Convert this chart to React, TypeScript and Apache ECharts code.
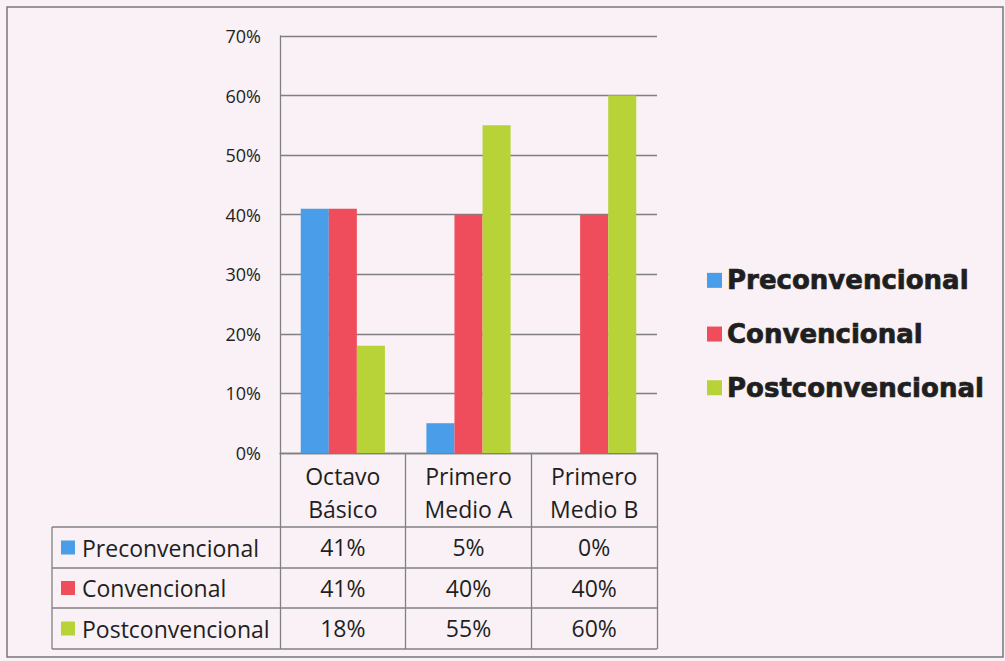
import React, { useEffect, useRef } from "react";
import * as echarts from "echarts";

const categories = ["Octavo\nBásico", "Primero\nMedio A", "Primero\nMedio B"];
const seriesNames = ["Preconvencional", "Convencional", "Postconvencional"];
const preconvencional = [41, 5, 0];
const convencional = [41, 40, 40];
const postconvencional = [18, 55, 60];
const colors = ["#4a9de8", "#ef4d5b", "#b7d337"];
const yTicks = [0, 10, 20, 30, 40, 50, 60, 70];

export default function App() {
  const ref = useRef<HTMLDivElement>(null);
  useEffect(() => {
    if (!ref.current) return;
    const chart = echarts.init(ref.current, null, { renderer: "svg" });
    const values = [preconvencional, convencional, postconvencional];
    const font = "'Open Sans', sans-serif";
    const gridLeft = 280;
    const gridRight = 657;
    const axisY = 453;
    const rowLines = [527, 568, 608, 649];
    const tableLeft = 52;
    const rowMargins = [94, 135, 175];
    const textColor = "#1f1f1f";

    const graphic: any[] = [
      {
        type: "rect",
        shape: { x: 7, y: 7, width: 996, height: 650 },
        style: { fill: "none", stroke: "#777", lineWidth: 1.5 },
        silent: true,
      },
      ...rowLines.map((y) => ({
        type: "line",
        shape: { x1: tableLeft, y1: y, x2: gridRight, y2: y },
        style: { stroke: "#808080", lineWidth: 1.3 },
      })),
      {
        type: "line",
        shape: { x1: tableLeft, y1: rowLines[0], x2: tableLeft, y2: rowLines[3] },
        style: { stroke: "#808080", lineWidth: 1.3 },
      },
    ];
    seriesNames.forEach((name, i) => {
      const yc = (rowLines[i] + rowLines[i + 1]) / 2;
      graphic.push({
        type: "rect",
        shape: { x: 61, y: yc - 7, width: 14, height: 14 },
        style: { fill: colors[i] },
      });
      graphic.push({
        type: "text",
        x: 82,
        y: yc,
        style: {
          text: name,
          font: `23px ${font}`,
          fill: textColor,
          verticalAlign: "middle",
          align: "left",
        },
      });
    });

    const extraAxes = values.map((vals, i) => ({
      type: "category",
      data: vals.map((v) => v + "%"),
      position: "bottom",
      offset: 0,
      axisLine: { show: false },
      axisTick: { show: false },
      axisLabel: {
        margin: rowMargins[i],
        verticalAlign: "middle",
        fontFamily: font,
        fontSize: 23,
        color: textColor,
      },
    }));

    chart.setOption({
      animation: false,
      backgroundColor: "#f9f1f5",
      color: colors,
      graphic,
      legend: {
        orient: "vertical",
        left: 702,
        top: 262,
        icon: "rect",
        itemWidth: 15,
        itemHeight: 15,
        itemGap: 27,
        data: seriesNames,
        textStyle: {
          fontFamily: "'DejaVu Sans', sans-serif",
          fontWeight: "bold",
          fontSize: 26,
          color: textColor,
          lineHeight: 26,
          textBorderColor: textColor,
          textBorderWidth: 0.7,
        },
      },
      grid: {
        left: gridLeft,
        right: 1005 - gridRight,
        top: 36,
        bottom: 661 - axisY,
        containLabel: false,
      },
      xAxis: [
        {
          type: "category",
          data: categories,
          axisLine: { show: true, lineStyle: { color: "#808080", width: 1.3 } },
          axisTick: {
            show: true,
            length: rowLines[3] - axisY,
            lineStyle: { color: "#808080", width: 1.3 },
          },
          axisLabel: {
            margin: 6,
            fontFamily: font,
            fontSize: 23,
            lineHeight: 33,
            color: textColor,
          },
        },
        ...extraAxes,
      ],
      yAxis: {
        type: "value",
        min: 0,
        max: 70,
        interval: 10,
        axisLine: { show: true, lineStyle: { color: "#808080", width: 1.3 } },
        axisTick: { show: false },
        splitLine: { lineStyle: { color: "#808080", width: 1.3 } },
        axisLabel: {
          margin: 19,
          formatter: (v: number) => (yTicks.includes(v) ? v + "%" : ""),
          fontFamily: font,
          fontSize: 18,
          color: textColor,
        },
      },
      series: values.map((vals, i) => ({
        type: "bar",
        name: seriesNames[i],
        data: vals,
        xAxisIndex: 0,
        barGap: "0%",
        barCategoryGap: "33%",
        itemStyle: { color: colors[i] },
      })),
    });
    return () => chart.dispose();
  }, []);
  return (
    <div
      ref={ref}
      style={{ position: "fixed", left: 0, top: 0, width: 1005, height: 661 }}
    />
  );
}
